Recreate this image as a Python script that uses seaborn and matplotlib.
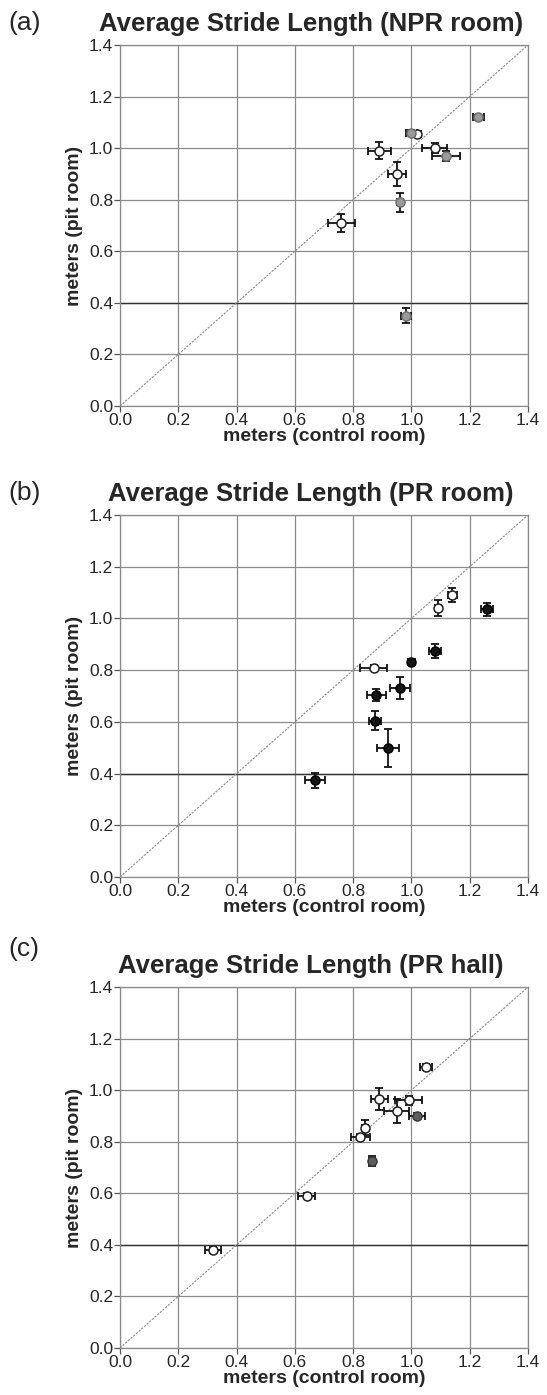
import matplotlib
matplotlib.use("Agg")
import matplotlib.pyplot as plt
import pandas as pd
import seaborn as sns

sns.set_theme(style="white")
plt.rcParams['font.family'] = ['Liberation Sans', 'DejaVu Sans']

# (a) NPR room
a_ctrl = [0.76, 0.89, 0.95, 0.96, 1.00, 1.02, 1.08, 1.12, 1.23, 0.98]
a_pit = [0.71, 0.99, 0.90, 0.79, 1.06, 1.055, 1.00, 0.97, 1.12, 0.35]
a_ctrl_err = [0.047, 0.039, 0.030, 0.010, 0.020, 0.012, 0.043, 0.048, 0.020, 0.017]
a_pit_err = [0.034, 0.032, 0.045, 0.037, 0.010, 0.010, 0.020, 0.020, 0.010, 0.029]
a_group = ["open", "open", "open", "gray", "gray", "open", "open", "gray", "gray", "gray"]

# (b) PR room
b_ctrl = [0.87, 1.09, 1.14, 1.26, 1.08, 1.00, 0.96, 0.88, 0.875, 0.92, 0.67]
b_pit = [0.81, 1.04, 1.09, 1.035, 0.875, 0.83, 0.73, 0.705, 0.605, 0.50, 0.375]
b_ctrl_err = [0.046, 0.010, 0.015, 0.021, 0.021, 0.012, 0.035, 0.034, 0.020, 0.038, 0.035]
b_pit_err = [0.010, 0.032, 0.026, 0.025, 0.027, 0.012, 0.043, 0.023, 0.036, 0.074, 0.029]
b_group = ["open", "open", "open", "black", "black", "black", "black", "black", "black", "black", "black"]

# (c) PR hall
c_ctrl = [1.05, 0.89, 0.99, 0.95, 1.02, 0.84, 0.825, 0.865, 0.64, 0.32]
c_pit = [1.09, 0.965, 0.96, 0.92, 0.90, 0.855, 0.82, 0.725, 0.59, 0.38]
c_ctrl_err = [0.020, 0.029, 0.046, 0.043, 0.027, 0.010, 0.034, 0.010, 0.030, 0.027]
c_pit_err = [0.010, 0.043, 0.016, 0.047, 0.010, 0.028, 0.010, 0.020, 0.010, 0.010]
c_group = ["open", "open", "open", "open", "dark", "open", "open", "dark", "open", "open"]

ticks = [0.0, 0.2, 0.4, 0.6, 0.8, 1.0, 1.2, 1.4]
tick_labels = ["0.0", "0.2", "0.4", "0.6", "0.8", "1.0", "1.2", "1.4"]

panels = [
    ("(a)", "Average Stride Length (NPR room)", a_ctrl, a_pit, a_ctrl_err, a_pit_err, a_group),
    ("(b)", "Average Stride Length (PR room)", b_ctrl, b_pit, b_ctrl_err, b_pit_err, b_group),
    ("(c)", "Average Stride Length (PR hall)", c_ctrl, c_pit, c_ctrl_err, c_pit_err, c_group),
]

fills = {"open": "white", "gray": "#9a9a9a", "black": "#151515", "dark": "#5e5e5e"}
edges = {"open": "#202020", "gray": "#707070", "black": "#000000", "dark": "#3a3a3a"}

W, H = 547, 1395
fig = plt.figure(figsize=(W / 100, H / 100), dpi=100)

left, right = 120 / W, 528 / W
tops = [45, 515, 987]
bottoms = [406, 877, 1348]
tag_lift = [0, 0, 16]

for i, (tag, title, xs, ys, xe, ye, grp) in enumerate(panels):
    df = pd.DataFrame({"control": xs, "pit": ys, "xerr": xe, "yerr": ye, "group": grp})
    ax = fig.add_axes([left, 1 - bottoms[i] / H, right - left, (bottoms[i] - tops[i]) / H])
    ax.set_xlim(0, 1.4)
    ax.set_ylim(0, 1.4)
    ax.set_xticks(ticks)
    ax.set_yticks(ticks)
    ax.set_xticklabels(tick_labels)
    ax.set_yticklabels(tick_labels)
    ax.grid(True, color="#8a8a8a", linewidth=0.9)
    ax.axhline(0.4, color="#333333", linewidth=1.0, zorder=1)
    ax.set_axisbelow(True)
    for s in ax.spines.values():
        s.set_color("#8a8a8a")
        s.set_linewidth(0.9)
    ax.tick_params(axis="both", direction="out", length=4, width=0.9, color="#555555",
                   labelsize=12.5, pad=1, bottom=True, left=True)

    # identity line
    ax.plot([0, 1.4], [0, 1.4], color="#8a8a8a", linewidth=0.8,
            linestyle=(0, (2, 1.2)), zorder=2)

    ax.errorbar(df["control"], df["pit"], xerr=df["xerr"], yerr=df["yerr"], fmt="none",
                ecolor="#111111", elinewidth=1.3, capsize=3.0, capthick=1.3, zorder=3)
    for g in df["group"].unique():
        sub = df[df["group"] == g]
        sns.scatterplot(data=sub, x="control", y="pit", ax=ax, s=42, color=fills[g],
                        edgecolor=edges[g], linewidth=1.1, zorder=4, legend=False)

    ax.set_xlabel("meters (control room)", fontsize=14, fontweight="bold", labelpad=0)
    ax.set_ylabel("meters (pit room)", fontsize=14, fontweight="bold", labelpad=4)

    ty = 1 - (tops[i] - 21) / H
    fig.text(0.568, ty, title, fontsize=18.5, fontweight="bold", ha="center", va="center")
    fig.text(0.015, ty + 0.001 + tag_lift[i] / H, tag, fontsize=19, ha="left", va="center")

fig.savefig("out.png", dpi=100)
